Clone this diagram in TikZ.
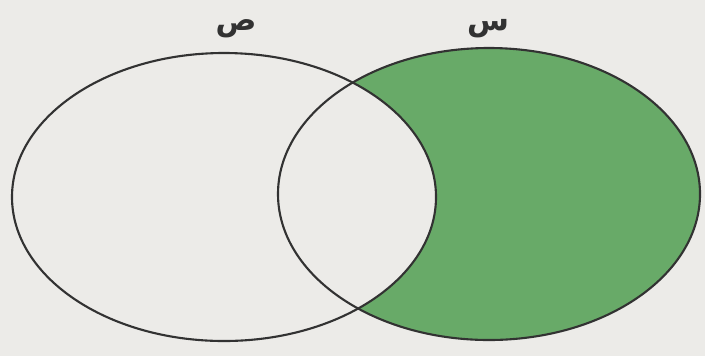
\documentclass[tikz,border=0pt]{standalone}
\usepackage{fontspec}
\newfontfamily\arabicfont[Script=Arabic]{DejaVu Sans}
\TeXXeTstate=1
\definecolor{paper}{RGB}{236,235,232}
\definecolor{setgreen}{RGB}{104,170,104}
\definecolor{ink}{RGB}{50,50,50}
\begin{document}
\begin{tikzpicture}[x=0.02cm,y=-0.02cm]
\fill[paper] (0,0) rectangle (705,356);

\fill[setgreen] (489,194) ellipse (211 and 146);
\begin{scope}
\clip (489,194) ellipse (211 and 146);
\fill[paper] (224,197) ellipse (212 and 144);
\end{scope}

\draw[ink,line width=1.2pt] (224,197) ellipse (212 and 144);
\draw[ink,line width=1.2pt] (489,194) ellipse (211 and 146);

\node[ink,font=\LARGE] (sad) at (236,29) {\arabicfont\bfseries\beginR ص\endR};
\node[ink,font=\LARGE] (seen) at (488,29) {\arabicfont\bfseries\beginR س\endR};
\end{tikzpicture}
\end{document}
